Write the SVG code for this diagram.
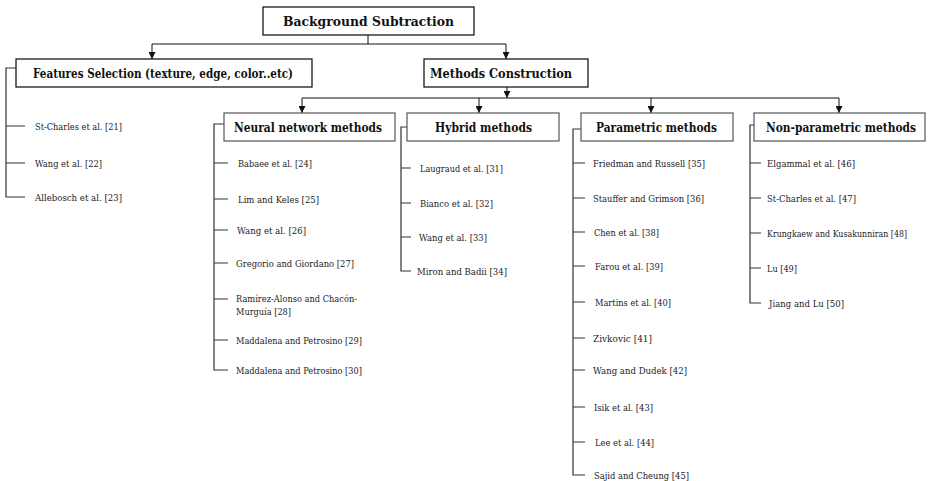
<svg xmlns="http://www.w3.org/2000/svg" width="928" height="481" viewBox="0 0 928 481">
<defs>
<marker id="arr" viewBox="0 0 8 8" refX="8" refY="4" markerWidth="7" markerHeight="7" markerUnits="userSpaceOnUse" orient="auto">
<path d="M0,0 L8,4 L0,8 Z" fill="#111"/>
</marker>
</defs>
<style>
.top{fill:#fff;stroke:#1a1a1a;stroke-width:1.3}
.sub{fill:#fff;stroke:#555;stroke-width:1.2}
text{font-family:'DejaVu Serif','Liberation Serif',serif}
.title{font-weight:bold;font-size:12.6px;fill:#111}
.leaf{font-size:9.4px;fill:#222}
.conn{fill:none;stroke:#111;stroke-width:1}
.br{fill:none;stroke:#333;stroke-width:1.2}
</style>
<rect width="928" height="481" fill="#fff"/>
<g id="connectors">
<path class="conn" d="M368,35 V44 M152,44 H506"/>
<path class="conn" d="M152,44 V59" marker-end="url(#arr)"/>
<path class="conn" d="M506,44 V59" marker-end="url(#arr)"/>
<path class="conn" d="M507,87 V98" marker-end="url(#arr)"/>
<path class="conn" d="M302,98 H839"/>
<path class="conn" d="M302,98 V113" marker-end="url(#arr)"/>
<path class="conn" d="M479,98 V113" marker-end="url(#arr)"/>
<path class="conn" d="M651,98 V113" marker-end="url(#arr)"/>
<path class="conn" d="M839,98 V113" marker-end="url(#arr)"/>
<path class="br" d="M16,68 H6 V197 H25 M6,126 H25 M6,163 H25"/>
<path class="br" d="M224,124 H214 V370 H228 M214,163 H228 M214,199 H228 M214,230 H228 M214,263 H228 M214,299 H228 M214,340 H228"/>
<path class="br" d="M407,127 H401 V271 H411 M401,168 H411 M401,203 H411 M401,237 H411"/>
<path class="br" d="M581,129 H573 V475 H585 M573,163 H585 M573,198 H585 M573,232 H585 M573,266 H585 M573,302 H585 M573,338 H585 M573,370 H585 M573,407 H585 M573,442 H585"/>
<path class="br" d="M754,125 H750 V303 H761 M750,163 H761 M750,198 H761 M750,233 H761 M750,268 H761"/>
</g>
<g id="background-subtraction">
<rect class="top" x="263" y="7" width="211" height="28"/>
<text class="title" x="283" y="26" textLength="171" lengthAdjust="spacingAndGlyphs">Background Subtraction</text>
</g>
<g id="features-selection">
<rect class="top" x="16" y="59" width="296" height="28"/>
<text class="title" x="33" y="77.5" textLength="260" lengthAdjust="spacingAndGlyphs">Features Selection (texture, edge, color..etc)</text>
<text class="leaf" x="35" y="130" textLength="87" lengthAdjust="spacingAndGlyphs">St-Charles et al. [21]</text>
<text class="leaf" x="35" y="166.5" textLength="67" lengthAdjust="spacingAndGlyphs">Wang et al. [22]</text>
<text class="leaf" x="35" y="200.5" textLength="87" lengthAdjust="spacingAndGlyphs">Allebosch et al. [23]</text>
</g>
<g id="methods-construction">
<rect class="top" x="424" y="59" width="164" height="28"/>
<text class="title" x="430" y="77.5" textLength="142" lengthAdjust="spacingAndGlyphs">Methods Construction</text>
</g>
<g id="neural-network">
<rect class="sub" x="224" y="113" width="171" height="28"/>
<text class="title" x="234" y="131.5" textLength="148" lengthAdjust="spacingAndGlyphs">Neural network methods</text>
<text class="leaf" x="238" y="166.5" textLength="74" lengthAdjust="spacingAndGlyphs">Babaee et al. [24]</text>
<text class="leaf" x="238" y="202.5" textLength="81" lengthAdjust="spacingAndGlyphs">Lim and Keles [25]</text>
<text class="leaf" x="237" y="233.5" textLength="69" lengthAdjust="spacingAndGlyphs">Wang et al. [26]</text>
<text class="leaf" x="236" y="266.5" textLength="118" lengthAdjust="spacingAndGlyphs">Gregorio and Giordano [27]</text>
<text class="leaf" x="236" y="302" textLength="121" lengthAdjust="spacingAndGlyphs">Ramírez-Alonso and Chacón-</text>
<text class="leaf" x="236" y="314.5" textLength="55" lengthAdjust="spacingAndGlyphs">Murguía [28]</text>
<text class="leaf" x="236" y="343.5" textLength="126" lengthAdjust="spacingAndGlyphs">Maddalena and Petrosino [29]</text>
<text class="leaf" x="236" y="373.5" textLength="126" lengthAdjust="spacingAndGlyphs">Maddalena and Petrosino [30]</text>
</g>
<g id="hybrid">
<rect class="sub" x="407" y="113" width="152" height="28"/>
<text class="title" x="435" y="131.5" textLength="97" lengthAdjust="spacingAndGlyphs">Hybrid methods</text>
<text class="leaf" x="420" y="171.5" textLength="83" lengthAdjust="spacingAndGlyphs">Laugraud et al. [31]</text>
<text class="leaf" x="420" y="206.5" textLength="73" lengthAdjust="spacingAndGlyphs">Bianco et al. [32]</text>
<text class="leaf" x="419" y="240.5" textLength="68" lengthAdjust="spacingAndGlyphs">Wang et al. [33]</text>
<text class="leaf" x="417" y="274.5" textLength="90" lengthAdjust="spacingAndGlyphs">Miron and Badii [34]</text>
</g>
<g id="parametric">
<rect class="sub" x="581" y="113" width="152" height="28"/>
<text class="title" x="596" y="131.5" textLength="121" lengthAdjust="spacingAndGlyphs">Parametric methods</text>
<text class="leaf" x="593" y="166.5" textLength="112" lengthAdjust="spacingAndGlyphs">Friedman and Russell [35]</text>
<text class="leaf" x="593" y="201.5" textLength="111" lengthAdjust="spacingAndGlyphs">Stauffer and Grimson [36]</text>
<text class="leaf" x="594" y="235.5" textLength="65" lengthAdjust="spacingAndGlyphs">Chen et al. [38]</text>
<text class="leaf" x="595" y="269.5" textLength="68" lengthAdjust="spacingAndGlyphs">Farou et al. [39]</text>
<text class="leaf" x="595" y="305.5" textLength="76" lengthAdjust="spacingAndGlyphs">Martins et al. [40]</text>
<text class="leaf" x="593" y="341.5" textLength="59" lengthAdjust="spacingAndGlyphs">Zivkovic [41]</text>
<text class="leaf" x="593" y="373.5" textLength="94" lengthAdjust="spacingAndGlyphs">Wang and Dudek [42]</text>
<text class="leaf" x="594" y="410.5" textLength="59" lengthAdjust="spacingAndGlyphs">Isik et al. [43]</text>
<text class="leaf" x="595" y="445.5" textLength="59" lengthAdjust="spacingAndGlyphs">Lee et al. [44]</text>
<text class="leaf" x="594" y="478.5" textLength="95" lengthAdjust="spacingAndGlyphs">Sajid and Cheung [45]</text>
</g>
<g id="non-parametric">
<rect class="sub" x="754" y="113" width="171" height="28"/>
<text class="title" x="766" y="131.5" font-size="10.8" textLength="150" lengthAdjust="spacingAndGlyphs">Non-parametric methods</text>
<text class="leaf" x="767" y="166.5" textLength="88" lengthAdjust="spacingAndGlyphs">Elgammal et al. [46]</text>
<text class="leaf" x="767" y="201.5" textLength="89" lengthAdjust="spacingAndGlyphs">St-Charles et al. [47]</text>
<text class="leaf" x="767" y="236.5" font-size="8" textLength="140" lengthAdjust="spacingAndGlyphs">Krungkaew and Kusakunniran [48]</text>
<text class="leaf" x="767" y="271.5" textLength="30" lengthAdjust="spacingAndGlyphs">Lu [49]</text>
<text class="leaf" x="769" y="306.5" textLength="75" lengthAdjust="spacingAndGlyphs">Jiang and Lu [50]</text>
</g>
</svg>
